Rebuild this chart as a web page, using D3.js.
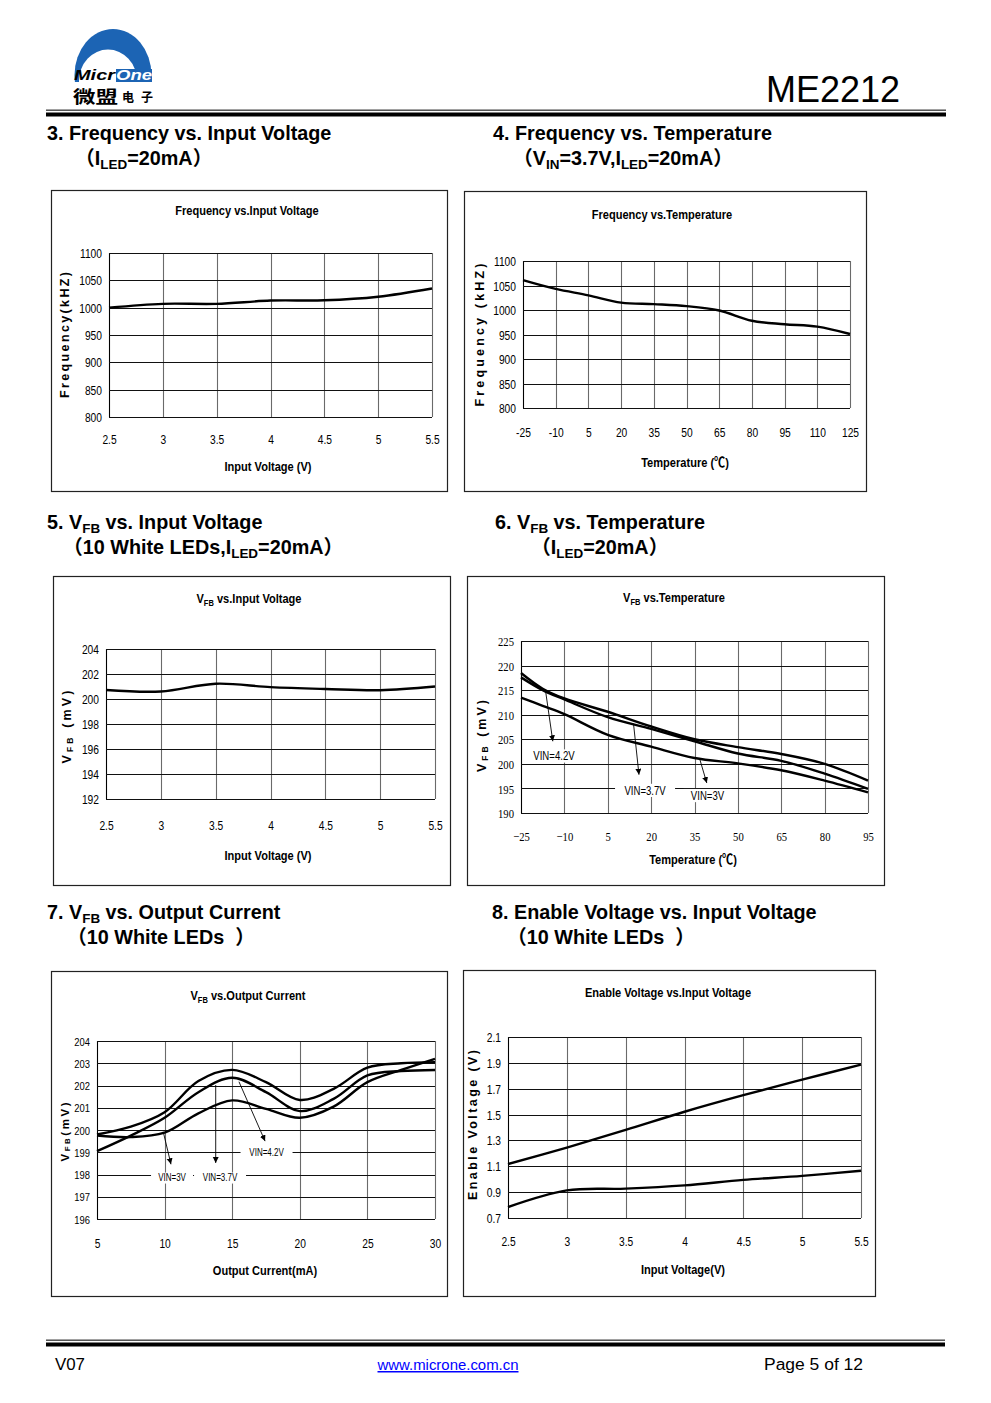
<!DOCTYPE html>
<html><head><meta charset="utf-8">
<script src="https://cdn.jsdelivr.net/npm/d3@7"></script>
<style>body{margin:0;background:#fff} svg{display:block}</style>
</head><body>
<svg id="page" width="991" height="1403"></svg>
<script>
// ---------------- DATA ----------------
const vinTicks = [2.5, 3, 3.5, 4, 4.5, 5, 5.5];
const vinLabels = ["2.5", "3", "3.5", "4", "4.5", "5", "5.5"];

const freqTicks = [800, 850, 900, 950, 1000, 1050, 1100];
const freqLabels = ["800", "850", "900", "950", "1000", "1050", "1100"];

// 3. Frequency vs Input Voltage
const freqVinX = [2.5, 3, 3.5, 4, 4.5, 5, 5.5];
const freqVinY = [1000, 1007, 1007, 1013, 1013.5, 1020, 1035];

// 4. Frequency vs Temperature
const tempTicksA = [-25, -10, 5, 20, 35, 50, 65, 80, 95, 110, 125];
const tempLabelsA = ["-25", "-10", "5", "20", "35", "50", "65", "80", "95", "110", "125"];
const freqTempX = [-25, -10, 5, 20, 35, 50, 65, 80, 95, 110, 125];
const freqTempY = [1061, 1043, 1030, 1015, 1012, 1008, 999, 978, 971, 966, 951];

// 5. VFB vs Input Voltage
const vfbTicksA = [192, 194, 196, 198, 200, 202, 204];
const vfbLabelsA = ["192", "194", "196", "198", "200", "202", "204"];
const vfbVinX = [2.5, 3, 3.5, 4, 4.5, 5, 5.5];
const vfbVinY = [200.72, 200.6, 201.22, 200.95, 200.8, 200.7, 201.0];

// 6. VFB vs Temperature
const tempTicksB = [-25, -10, 5, 20, 35, 50, 65, 80, 95];
const tempLabelsB = ["\u221225", "\u221210", "5", "20", "35", "50", "65", "80", "95"];
const vfbTicksB = [190, 195, 200, 205, 210, 215, 220, 225];
const vfbLabelsB = ["190", "195", "200", "205", "210", "215", "220", "225"];
const vfbTempX = [-25, -17.5, -10, 5, 20, 35, 50, 65, 80, 95];
const vfbTempVin42 = [218.5, 215.3, 213.3, 210.6, 207.6, 205.0, 203.4, 202.0, 200.0, 196.6];
const vfbTempVin37 = [217.6, 215.0, 213.1, 209.5, 207.1, 204.6, 202.1, 200.6, 198.0, 194.9];
const vfbTempVin30 = [213.5, 211.8, 210.1, 205.9, 203.5, 201.2, 200.1, 198.7, 196.6, 194.2];

// 7. VFB vs Output Current
const ioutTicks = [5, 10, 15, 20, 25, 30];
const ioutLabels = ["5", "10", "15", "20", "25", "30"];
const vfbTicksC = [196, 197, 198, 199, 200, 201, 202, 203, 204];
const vfbLabelsC = ["196", "197", "198", "199", "200", "201", "202", "203", "204"];
const vfbIoutX = [5, 7.5, 10, 12.5, 15, 17.5, 20, 22.5, 25, 27.5, 30];
const vfbIoutVin42 = [199.8, 200.15, 200.8, 202.2, 202.7, 202.15, 201.35, 201.85, 202.8, 203.0, 203.05];
const vfbIoutVin37 = [199.05, 199.75, 200.55, 201.7, 202.35, 201.7, 200.85, 201.4, 202.45, 202.65, 202.7];
const vfbIoutVin30 = [199.75, 199.68, 199.88, 200.75, 201.33, 200.95, 200.55, 201.05, 202.15, 202.7, 203.2];

// 8. Enable Voltage vs Input Voltage
const enTicks = [0.7, 0.9, 1.1, 1.3, 1.5, 1.7, 1.9, 2.1];
const enLabels = ["0.7", "0.9", "1.1", "1.3", "1.5", "1.7", "1.9", "2.1"];
const enVinX = [2.5, 3, 3.5, 4, 4.5, 5, 5.5];
const enHigh = [1.117, 1.245, 1.381, 1.522, 1.65, 1.77, 1.887];
const enLow = [0.785, 0.914, 0.927, 0.952, 0.995, 1.026, 1.065];

// annotation anchors (data units)
const notesTemp = [
  {label: "VIN=4.2V", x0: -16.5, y0: 214.8, x1: -14.0, y1: 204.6, lx: -13.6, ly: 201.6},
  {label: "VIN=3.7V", x0: 13.9, y0: 208.2, x1: 15.8, y1: 197.8, lx: 17.9, ly: 194.6},
  {label: "VIN=3V", x0: 36.7, y0: 201.2, x1: 39.25, y1: 196.1, lx: 39.5, ly: 193.55}
];
const notesIout = [
  {label: "VIN=3V", x0: 9.9, y0: 199.92, x1: 10.47, y1: 198.46, lx: 10.55, ly: 197.84},
  {label: "VIN=3.7V", x0: 13.78, y0: 202.02, x1: 13.78, y1: 198.52, lx: 14.1, ly: 197.84},
  {label: "VIN=4.2V", x0: 15.5, y0: 202.17, x1: 17.43, y1: 199.5, lx: 17.54, ly: 198.97}
];

// ---------------- DRAW ----------------
const svg = d3.select('#page');
const SANS = "'Liberation Sans', Arial, 'Noto Sans CJK SC', sans-serif";
const SERIF = "'Liberation Serif', 'Times New Roman', serif";
const CJK = "'Noto Sans CJK SC', sans-serif";
const SQ = 0.82;

const defs = svg.append('defs');
defs.append('marker').attr('id', 'arrow').attr('markerUnits', 'userSpaceOnUse')
  .attr('markerWidth', 8).attr('markerHeight', 8).attr('refX', 6).attr('refY', 3)
  .attr('orient', 'auto')
  .append('path').attr('d', 'M0,0 L6,3 L0,6 Z').attr('fill', '#000');

function addParts(t, parts, size) {
  if (typeof parts === 'string') parts = [parts];
  let lowered = false;
  parts.forEach(p => {
    const sub = Array.isArray(p);
    const s = sub ? p[0] : p;
    const ts = t.append('tspan').text(s);
    if (sub) {
      ts.attr('font-size', size * 0.68);
      if (!lowered) { ts.attr('dy', size * 0.22); lowered = true; }
    } else if (lowered) {
      ts.attr('dy', -size * 0.22); lowered = false;
    }
  });
}

function ntext(g, x, y, parts, o) {
  const t = g.append('text')
    .attr('transform', `translate(${x},${y}) scale(${o.sx ?? SQ},1)`)
    .attr('font-family', o.family || SANS)
    .attr('font-size', o.size)
    .attr('font-weight', o.weight || 'normal')
    .attr('text-anchor', o.anchor || 'middle')
    .attr('fill', o.fill || '#000')
    .style('white-space', 'pre');
  if (o.baseline) t.attr('dominant-baseline', o.baseline);
  addParts(t, parts, o.size);
  return t;
}

function chart(cfg) {
  const g = svg.append('g');
  const [bx0, by0, bx1, by1] = cfg.box;
  g.append('rect').attr('x', bx0 + 0.5).attr('y', by0 + 0.5)
    .attr('width', bx1 - bx0).attr('height', by1 - by0)
    .attr('fill', '#fff').attr('stroke', '#222').attr('stroke-width', 1.2);

  const p = cfg.plot;
  const x = d3.scaleLinear().domain(cfg.xDomain).range([p.l, p.r]);
  const y = d3.scaleLinear().domain(cfg.yDomain).range([p.b, p.t]);

  // vertical grid
  g.append('g').selectAll('line').data(cfg.xTicks).join('line')
    .attr('x1', d => Math.round(x(d)) + 0.5).attr('x2', d => Math.round(x(d)) + 0.5)
    .attr('y1', p.t).attr('y2', p.b)
    .attr('stroke', (d, i) => i === 0 ? '#000' : '#6a6a6a').attr('stroke-width', 1.1);
  // horizontal grid
  g.append('g').selectAll('line').data(cfg.yTicks).join('line')
    .attr('x1', p.l).attr('x2', p.r)
    .attr('y1', d => Math.round(y(d)) + 0.5).attr('y2', d => Math.round(y(d)) + 0.5)
    .attr('stroke', '#111').attr('stroke-width', 1.1);

  const fam = cfg.tickFamily || SANS;
  const tsize = cfg.tickSize || 12.5;
  const ysize = cfg.yTickSize || tsize;
  // y axis labels
  const ay = d3.axisLeft(y).tickValues(cfg.yTicks).tickSize(0).tickPadding(0)
    .tickFormat((d, i) => cfg.yLabels[i]);
  const gy = g.append('g').attr('transform', `translate(${p.l - 7},0)`).call(ay);
  gy.select('.domain').remove();
  gy.selectAll('text').attr('font-family', fam).attr('font-size', ysize).attr('fill', '#000')
    .attr('x', 0).attr('dy', '0.36em').attr('transform', `scale(${SQ},1)`);
  // x axis labels
  const ax = d3.axisBottom(x).tickValues(cfg.xTicks).tickSize(0).tickPadding(0)
    .tickFormat((d, i) => cfg.xLabels[i]);
  const gx = g.append('g').attr('transform', `translate(0,${cfg.xLabelY})`).call(ax);
  gx.select('.domain').remove();
  gx.selectAll('text').attr('font-family', fam).attr('font-size', tsize).attr('fill', '#000')
    .attr('y', 0).attr('dy', '0.36em').attr('transform', `scale(${SQ},1)`);

  // series
  const line = d3.line().x(d => x(d[0])).y(d => y(d[1])).curve(d3.curveCatmullRom.alpha(0.5));
  cfg.series.forEach(s => {
    const pts = s.x.map((v, i) => [v, s.y[i]]);
    g.append('path').attr('d', line(pts)).attr('fill', 'none')
      .attr('stroke', '#000').attr('stroke-width', 2.4).attr('stroke-linejoin', 'round');
  });

  // annotations
  (cfg.notes || []).forEach(n => {
    g.append('line').attr('x1', x(n.x0)).attr('y1', y(n.y0))
      .attr('x2', x(n.x1)).attr('y2', y(n.y1))
      .attr('stroke', '#000').attr('stroke-width', 0.9).attr('marker-end', 'url(#arrow)');
    const bgw = n.label.length * cfg.noteSize * 0.5 + 12;
    g.append('rect').attr('x', x(n.lx) - bgw / 2).attr('y', y(n.ly) - cfg.noteSize * 0.55)
      .attr('width', bgw).attr('height', cfg.noteSize * 1.1).attr('fill', '#fff');
    ntext(g, x(n.lx), y(n.ly), n.label, {size: cfg.noteSize, baseline: 'central', sx: 0.8});
  });

  // titles
  ntext(g, cfg.titlePos[0], cfg.titlePos[1], cfg.title, {size: 13.5, weight: 'bold'});
  ntext(g, cfg.xTitlePos[0], cfg.xTitlePos[1], cfg.xTitle, {size: 13.5, weight: 'bold'});
  const ytsize = cfg.yTitleSize || 12.5;
  const yt = g.append('text')
    .attr('transform', `translate(${cfg.yTitlePos[0]},${cfg.yTitlePos[1]}) rotate(-90)`)
    .attr('font-family', SANS).attr('font-size', ytsize).attr('font-weight', 'bold')
    .attr('text-anchor', 'middle').attr('dominant-baseline', 'central')
    .attr('textLength', cfg.yTitleLen).attr('lengthAdjust', 'spacing');
  addParts(yt, cfg.yTitle, ytsize);
}

// ---- header ----
const logo = svg.append('g');
defs.append('clipPath').attr('id', 'logoclip').append('rect').attr('x', 60).attr('y', 20).attr('width', 110).attr('height', 62);
const lg = logo.append('g').attr('clip-path', 'url(#logoclip)');
lg.append('ellipse').attr('cx', 113).attr('cy', 75).attr('rx', 38.5).attr('ry', 46).attr('fill', '#1c64b4');
lg.append('ellipse').attr('cx', 108).attr('cy', 81).attr('rx', 29).attr('ry', 31.5).attr('fill', '#fff');
lg.append('rect').attr('x', 116).attr('y', 69).attr('width', 36).attr('height', 14).attr('fill', '#1c64b4');
logo.append('text').attr('x', 74).attr('y', 80).attr('font-family', SANS).attr('font-size', 14)
  .attr('font-weight', 'bold').attr('font-style', 'italic').attr('fill', '#000')
  .attr('textLength', 41).attr('lengthAdjust', 'spacingAndGlyphs').text('Micr');
logo.append('text').attr('x', 116).attr('y', 80).attr('font-family', SANS).attr('font-size', 14)
  .attr('font-weight', 'bold').attr('font-style', 'italic').attr('fill', '#fff')
  .attr('textLength', 36).attr('lengthAdjust', 'spacingAndGlyphs').text('One');
logo.append('text').attr('x', 73).attr('y', 102.5).attr('font-family', CJK).attr('font-size', 16.5)
  .attr('font-weight', 'bold').attr('textLength', 45).attr('lengthAdjust', 'spacingAndGlyphs').text('微盟');
logo.append('text').attr('x', 122).attr('y', 102).attr('font-family', CJK).attr('font-size', 12)
  .attr('font-weight', 'bold').attr('textLength', 31).attr('lengthAdjust', 'spacing').text('电子');

svg.append('text').attr('x', 900).attr('y', 102).attr('text-anchor', 'end')
  .attr('font-family', SANS).attr('font-size', 37).attr('fill', '#000')
  .attr('textLength', 134).attr('lengthAdjust', 'spacingAndGlyphs').text('ME2212');

svg.append('rect').attr('x', 46).attr('y', 109.5).attr('width', 900).attr('height', 1.4).attr('fill', '#444');
svg.append('rect').attr('x', 46).attr('y', 112.5).attr('width', 900).attr('height', 4).attr('fill', '#000');

// ---- section titles ----
const secFont = {size: 19.8, weight: 'bold', anchor: 'start', sx: 1};
function section(x1, y1, l1, x2, y2, l2) {
  ntext(svg, x1, y1, l1, secFont);
  ntext(svg, x2, y2, l2, secFont);
}
section(47, 140, "3. Frequency vs. Input Voltage", 75, 165, ["（I", ["LED"], "=20mA）"]);
section(493, 140, "4. Frequency vs. Temperature", 513, 165, ["（V", ["IN"], "=3.7V,I", ["LED"], "=20mA）"]);
section(47, 529, ["5. V", ["FB"], " vs. Input Voltage"], 63, 554, ["（10 White LEDs,I", ["LED"], "=20mA）"]);
section(495, 529, ["6. V", ["FB"], " vs. Temperature"], 531, 554, ["（I", ["LED"], "=20mA）"]);
section(47, 919, ["7. V", ["FB"], " vs. Output Current"], 67, 944, "（10 White LEDs  ）");
section(492, 919, "8. Enable Voltage vs. Input Voltage", 507, 944, "（10 White LEDs  ）");

// ---- charts ----
chart({
  box: [51, 190, 447, 491], plot: {l: 109, r: 432, t: 253, b: 417},
  xDomain: [2.5, 5.5], xTicks: vinTicks, xLabels: vinLabels,
  yDomain: [800, 1100], yTicks: freqTicks, yLabels: freqLabels, xLabelY: 439,
  series: [{x: freqVinX, y: freqVinY}],
  title: "Frequency vs.Input Voltage", titlePos: [247, 215],
  xTitle: "Input Voltage (V)", xTitlePos: [268, 471],
  yTitle: "Frequency(kHZ)", yTitlePos: [65, 335], yTitleLen: 126
});
chart({
  box: [464, 191, 866, 491], plot: {l: 523, r: 850, t: 261, b: 408},
  xDomain: [-25, 125], xTicks: tempTicksA, xLabels: tempLabelsA,
  yDomain: [800, 1100], yTicks: freqTicks, yLabels: freqLabels, xLabelY: 432,
  series: [{x: freqTempX, y: freqTempY}],
  title: "Frequency vs.Temperature", titlePos: [662, 219],
  xTitle: "Temperature (℃)", xTitlePos: [685, 467],
  yTitle: "Frequency (kHZ)", yTitlePos: [480, 335], yTitleLen: 143
});
chart({
  box: [53, 576, 450, 885], plot: {l: 106, r: 435, t: 649, b: 799},
  xDomain: [2.5, 5.5], xTicks: vinTicks, xLabels: vinLabels,
  yDomain: [192, 204], yTicks: vfbTicksA, yLabels: vfbLabelsA, xLabelY: 825,
  series: [{x: vfbVinX, y: vfbVinY}],
  title: ["V", ["FB"], " vs.Input Voltage"], titlePos: [249, 603],
  xTitle: "Input Voltage (V)", xTitlePos: [268, 860],
  yTitle: ["V", ["FB"], " (mV)"], yTitlePos: [67, 727], yTitleLen: 73
});
chart({
  box: [467, 576, 884, 885], plot: {l: 521, r: 868, t: 641, b: 813},
  xDomain: [-25, 95], xTicks: tempTicksB, xLabels: tempLabelsB,
  yDomain: [190, 225], yTicks: vfbTicksB, yLabels: vfbLabelsB, xLabelY: 836,
  tickFamily: SERIF, tickSize: 13,
  series: [{x: vfbTempX, y: vfbTempVin42}, {x: vfbTempX, y: vfbTempVin37}, {x: vfbTempX, y: vfbTempVin30}],
  notes: notesTemp, noteSize: 12,
  title: ["V", ["FB"], " vs.Temperature"], titlePos: [674, 602],
  xTitle: "Temperature (℃)", xTitlePos: [693, 864],
  yTitle: ["V", ["FB"], " (mV)"], yTitlePos: [482, 736], yTitleLen: 72
});
chart({
  box: [51, 971, 447, 1296], plot: {l: 97, r: 435, t: 1041, b: 1219},
  xDomain: [5, 30], xTicks: ioutTicks, xLabels: ioutLabels,
  yDomain: [196, 204], yTicks: vfbTicksC, yLabels: vfbLabelsC, xLabelY: 1243,
  yTickSize: 11.5,
  series: [{x: vfbIoutX, y: vfbIoutVin42}, {x: vfbIoutX, y: vfbIoutVin37}, {x: vfbIoutX, y: vfbIoutVin30}],
  notes: notesIout, noteSize: 10,
  title: ["V", ["FB"], " vs.Output Current"], titlePos: [248, 1000],
  xTitle: "Output Current(mA)", xTitlePos: [265, 1275],
  yTitle: ["V", ["FB"], "(mV)"], yTitlePos: [64.5, 1132], yTitleLen: 59, yTitleSize: 11.5
});
chart({
  box: [463, 970, 875, 1296], plot: {l: 508, r: 861, t: 1037, b: 1218},
  xDomain: [2.5, 5.5], xTicks: vinTicks, xLabels: vinLabels,
  yDomain: [0.7, 2.1], yTicks: enTicks, yLabels: enLabels, xLabelY: 1241,
  series: [{x: enVinX, y: enHigh}, {x: enVinX, y: enLow}],
  title: "Enable Voltage vs.Input Voltage", titlePos: [668, 997],
  xTitle: "Input Voltage(V)", xTitlePos: [683, 1274],
  yTitle: "Enable Voltage (V)", yTitlePos: [473, 1125], yTitleLen: 150
});

// ---- footer ----
svg.append('rect').attr('x', 46).attr('y', 1339.5).attr('width', 899).attr('height', 1.4).attr('fill', '#444');
svg.append('rect').attr('x', 46).attr('y', 1342.5).attr('width', 899).attr('height', 4).attr('fill', '#000');
svg.append('text').attr('x', 55).attr('y', 1370).attr('font-family', SANS).attr('font-size', 16)
  .attr('textLength', 30).attr('lengthAdjust', 'spacingAndGlyphs').text('V07');
svg.append('text').attr('x', 448).attr('y', 1370).attr('text-anchor', 'middle').attr('font-family', SANS)
  .attr('font-size', 15).attr('fill', '#0000ff').attr('text-decoration', 'underline')
  .attr('textLength', 141).attr('lengthAdjust', 'spacingAndGlyphs').text('www.microne.com.cn');
svg.append('text').attr('x', 764).attr('y', 1370).attr('font-family', SANS).attr('font-size', 16)
  .attr('textLength', 99).attr('lengthAdjust', 'spacingAndGlyphs').text('Page 5 of 12');
</script>
</body></html>
